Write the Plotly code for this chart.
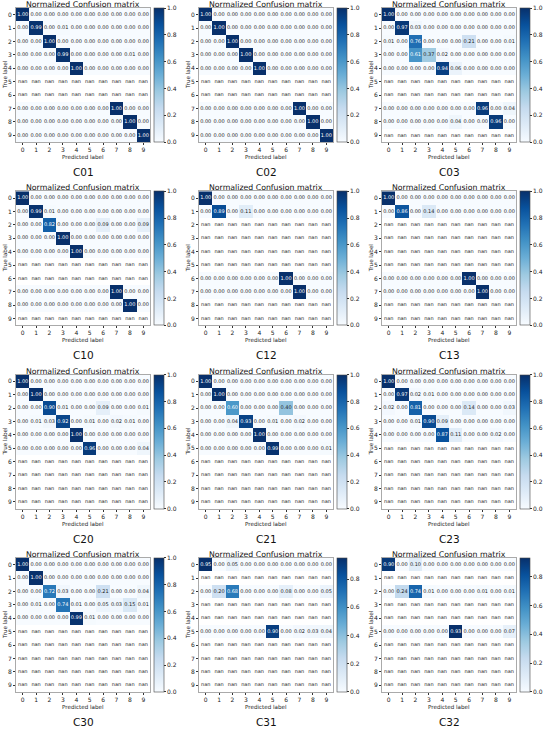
import plotly.graph_objects as go

# confusion matrices (rows = true label, cols = predicted label), None = nan
NAN = [None] * 10

c01 = [
    [1.00, 0.00, 0.00, 0.00, 0.00, 0.00, 0.00, 0.00, 0.00, 0.00],
    [0.00, 0.99, 0.00, 0.01, 0.00, 0.00, 0.00, 0.00, 0.00, 0.00],
    [0.00, 0.00, 1.00, 0.00, 0.00, 0.00, 0.00, 0.00, 0.00, 0.00],
    [0.00, 0.00, 0.00, 0.99, 0.00, 0.00, 0.00, 0.00, 0.01, 0.00],
    [0.00, 0.00, 0.00, 0.00, 1.00, 0.00, 0.00, 0.00, 0.00, 0.00],
    NAN, NAN,
    [0.00, 0.00, 0.00, 0.00, 0.00, 0.00, 0.00, 1.00, 0.00, 0.00],
    [0.00, 0.00, 0.00, 0.00, 0.00, 0.00, 0.00, 0.00, 1.00, 0.00],
    [0.00, 0.00, 0.00, 0.00, 0.00, 0.00, 0.00, 0.00, 0.00, 1.00],
]
c02 = [
    [1.00, 0.00, 0.00, 0.00, 0.00, 0.00, 0.00, 0.00, 0.00, 0.00],
    [0.00, 1.00, 0.00, 0.00, 0.00, 0.00, 0.00, 0.00, 0.00, 0.00],
    [0.00, 0.00, 1.00, 0.00, 0.00, 0.00, 0.00, 0.00, 0.00, 0.00],
    [0.00, 0.00, 0.00, 1.00, 0.00, 0.00, 0.00, 0.00, 0.00, 0.00],
    [0.00, 0.00, 0.00, 0.00, 1.00, 0.00, 0.00, 0.00, 0.00, 0.00],
    NAN, NAN,
    [0.00, 0.00, 0.00, 0.00, 0.00, 0.00, 0.00, 1.00, 0.00, 0.00],
    [0.00, 0.00, 0.00, 0.00, 0.00, 0.00, 0.00, 0.00, 1.00, 0.00],
    [0.00, 0.00, 0.00, 0.00, 0.00, 0.00, 0.00, 0.00, 0.00, 1.00],
]
c03 = [
    [1.00, 0.00, 0.00, 0.00, 0.00, 0.00, 0.00, 0.00, 0.00, 0.00],
    [0.00, 0.97, 0.03, 0.00, 0.00, 0.00, 0.00, 0.00, 0.00, 0.00],
    [0.01, 0.00, 0.76, 0.00, 0.00, 0.00, 0.21, 0.00, 0.00, 0.01],
    [0.00, 0.00, 0.61, 0.37, 0.02, 0.00, 0.00, 0.00, 0.00, 0.00],
    [0.00, 0.00, 0.00, 0.00, 0.94, 0.06, 0.00, 0.00, 0.00, 0.00],
    NAN, NAN,
    [0.00, 0.00, 0.00, 0.00, 0.00, 0.00, 0.00, 0.96, 0.00, 0.04],
    [0.00, 0.00, 0.00, 0.00, 0.00, 0.04, 0.00, 0.00, 0.96, 0.00],
    NAN,
]
c10 = [
    [1.00, 0.00, 0.00, 0.00, 0.00, 0.00, 0.00, 0.00, 0.00, 0.00],
    [0.00, 0.99, 0.01, 0.00, 0.00, 0.00, 0.00, 0.00, 0.00, 0.00],
    [0.00, 0.00, 0.82, 0.00, 0.00, 0.00, 0.09, 0.00, 0.00, 0.09],
    [0.00, 0.00, 0.00, 1.00, 0.00, 0.00, 0.00, 0.00, 0.00, 0.00],
    [0.00, 0.00, 0.00, 0.00, 1.00, 0.00, 0.00, 0.00, 0.00, 0.00],
    NAN, NAN,
    [0.00, 0.00, 0.00, 0.00, 0.00, 0.00, 0.00, 1.00, 0.00, 0.00],
    [0.00, 0.00, 0.00, 0.00, 0.00, 0.00, 0.00, 0.00, 1.00, 0.00],
    NAN,
]
c12 = [
    [1.00, 0.00, 0.00, 0.00, 0.00, 0.00, 0.00, 0.00, 0.00, 0.00],
    [0.00, 0.89, 0.00, 0.11, 0.00, 0.00, 0.00, 0.00, 0.00, 0.00],
    NAN, NAN, NAN, NAN,
    [0.00, 0.00, 0.00, 0.00, 0.00, 0.00, 1.00, 0.00, 0.00, 0.00],
    [0.00, 0.00, 0.00, 0.00, 0.00, 0.00, 0.00, 1.00, 0.00, 0.00],
    NAN, NAN,
]
c13 = [
    [1.00, 0.00, 0.00, 0.00, 0.00, 0.00, 0.00, 0.00, 0.00, 0.00],
    [0.00, 0.86, 0.00, 0.14, 0.00, 0.00, 0.00, 0.00, 0.00, 0.00],
    NAN, NAN, NAN, NAN,
    [0.00, 0.00, 0.00, 0.00, 0.00, 0.00, 1.00, 0.00, 0.00, 0.00],
    [0.00, 0.00, 0.00, 0.00, 0.00, 0.00, 0.00, 1.00, 0.00, 0.00],
    NAN, NAN,
]
c20 = [
    [1.00, 0.00, 0.00, 0.00, 0.00, 0.00, 0.00, 0.00, 0.00, 0.00],
    [0.00, 1.00, 0.00, 0.00, 0.00, 0.00, 0.00, 0.00, 0.00, 0.00],
    [0.00, 0.00, 0.90, 0.01, 0.00, 0.00, 0.09, 0.00, 0.00, 0.01],
    [0.00, 0.01, 0.03, 0.92, 0.00, 0.01, 0.00, 0.02, 0.01, 0.00],
    [0.00, 0.00, 0.00, 0.00, 1.00, 0.00, 0.00, 0.00, 0.00, 0.00],
    [0.00, 0.00, 0.00, 0.00, 0.00, 0.96, 0.00, 0.00, 0.00, 0.04],
    NAN, NAN, NAN, NAN,
]
c21 = [
    [1.00, 0.00, 0.00, 0.00, 0.00, 0.00, 0.00, 0.00, 0.00, 0.00],
    [0.00, 1.00, 0.00, 0.00, 0.00, 0.00, 0.00, 0.00, 0.00, 0.00],
    [0.00, 0.00, 0.60, 0.00, 0.00, 0.00, 0.40, 0.00, 0.00, 0.00],
    [0.00, 0.00, 0.04, 0.93, 0.00, 0.01, 0.00, 0.02, 0.00, 0.00],
    [0.00, 0.00, 0.00, 0.00, 1.00, 0.00, 0.00, 0.00, 0.00, 0.00],
    [0.00, 0.00, 0.00, 0.00, 0.00, 0.99, 0.00, 0.00, 0.00, 0.01],
    NAN, NAN, NAN, NAN,
]
c23 = [
    [1.00, 0.00, 0.00, 0.00, 0.00, 0.00, 0.00, 0.00, 0.00, 0.00],
    [0.00, 0.97, 0.02, 0.01, 0.00, 0.00, 0.00, 0.00, 0.00, 0.00],
    [0.02, 0.00, 0.81, 0.00, 0.00, 0.00, 0.14, 0.00, 0.00, 0.03],
    [0.00, 0.00, 0.01, 0.90, 0.09, 0.00, 0.00, 0.00, 0.00, 0.00],
    [0.00, 0.00, 0.00, 0.00, 0.87, 0.11, 0.00, 0.00, 0.02, 0.00],
    NAN, NAN, NAN, NAN, NAN,
]
c30 = [
    [1.00, 0.00, 0.00, 0.00, 0.00, 0.00, 0.00, 0.00, 0.00, 0.00],
    [0.00, 1.00, 0.00, 0.00, 0.00, 0.00, 0.00, 0.00, 0.00, 0.00],
    [0.00, 0.00, 0.72, 0.03, 0.00, 0.00, 0.21, 0.00, 0.00, 0.04],
    [0.00, 0.01, 0.00, 0.74, 0.01, 0.00, 0.05, 0.03, 0.15, 0.01],
    [0.00, 0.00, 0.00, 0.00, 0.99, 0.01, 0.00, 0.00, 0.00, 0.00],
    NAN, NAN, NAN, NAN, NAN,
]
c31 = [
    [0.95, 0.00, 0.05, 0.00, 0.00, 0.00, 0.00, 0.00, 0.00, 0.00],
    NAN,
    [0.00, 0.20, 0.68, 0.00, 0.00, 0.00, 0.08, 0.00, 0.00, 0.05],
    NAN, NAN,
    [0.00, 0.00, 0.00, 0.00, 0.00, 0.90, 0.00, 0.02, 0.03, 0.04],
    NAN, NAN, NAN, NAN,
]
c32 = [
    [0.90, 0.00, 0.10, 0.00, 0.00, 0.00, 0.00, 0.00, 0.00, 0.00],
    NAN,
    [0.00, 0.24, 0.74, 0.01, 0.00, 0.00, 0.00, 0.01, 0.00, 0.01],
    NAN, NAN,
    [0.00, 0.00, 0.00, 0.00, 0.00, 0.93, 0.00, 0.00, 0.00, 0.07],
    NAN, NAN, NAN, NAN,
]

names = ["C01", "C02", "C03", "C10", "C12", "C13",
         "C20", "C21", "C23", "C30", "C31", "C32"]
matrices = [c01, c02, c03, c10, c12, c13, c20, c21, c23, c30, c31, c32]
labels = list(range(10))

W, H = 550, 733
FONT = "DejaVu Sans"

# matplotlib "Blues"
blues = [[0.0, "#f7fbff"], [0.125, "#deebf7"], [0.25, "#c6dbef"],
         [0.375, "#9ecae1"], [0.5, "#6baed6"], [0.625, "#4292c6"],
         [0.75, "#2171b5"], [0.875, "#08519c"], [1.0, "#08306b"]]

fig = go.Figure()
annotations = []

for k, (name, m) in enumerate(zip(names, matrices)):
    r, c = divmod(k, 3)
    ox = 16 + c * 183.0      # matrix left edge (px)
    oy = 8 + r * 183.3       # matrix top edge (px)
    size = 134.0
    ax = "" if k == 0 else str(k + 1)

    vals = [v for row in m for v in row if v is not None]
    zmax = max(vals)
    zmin = min(vals)

    fig.add_trace(go.Heatmap(
        z=m, x=labels, y=labels,
        xaxis="x" + ax, yaxis="y" + ax,
        colorscale=blues, zmin=zmin, zmax=zmax,
        hoverongaps=False,
        colorbar=dict(
            x=(ox + size + 4) / W, xanchor="left",
            y=1 - (oy + size / 2) / H, yanchor="middle",
            len=size / H, thickness=10,
            outlinewidth=0.6, outlinecolor="#444444",
            tickvals=[0, 0.2, 0.4, 0.6, 0.8, 1.0], tickformat=".1f",
            ticks="outside", ticklen=2, tickwidth=0.6, tickcolor="#333333",
            tickfont=dict(size=6, family=FONT, color="#222222"),
            xpad=0, ypad=0,
        ),
    ))

    # cell text
    tx, ty, tt, tc = [], [], [], []
    for i, row in enumerate(m):
        for j, v in enumerate(row):
            tx.append(j)
            ty.append(i)
            if v is None:
                tt.append("nan")
                tc.append("#222222")
            else:
                tt.append(f"{v:.2f}")
                tc.append("white" if v > zmax / 2 else "#222222")
    fig.add_trace(go.Scatter(
        x=tx, y=ty, text=tt, mode="text",
        xaxis="x" + ax, yaxis="y" + ax,
        textfont=dict(size=5.0, family=FONT, color=tc),
        hoverinfo="skip", showlegend=False,
    ))

    axis_common = dict(
        tickvals=labels, ticks="outside", ticklen=2, tickwidth=0.6,
        tickcolor="#333333", showgrid=False, zeroline=False,
        showline=True, mirror=True, linecolor="#aaaaaa", linewidth=0.8,
        tickfont=dict(size=6, family=FONT, color="#222222"),
    )
    fig.layout["xaxis" + ax] = dict(
        axis_common, domain=[ox / W, (ox + size) / W],
        range=[-0.5, 9.5], anchor="y" + ax,
    )
    fig.layout["yaxis" + ax] = dict(
        axis_common, domain=[1 - (oy + size) / H, 1 - oy / H],
        range=[9.5, -0.5], anchor="x" + ax,
    )

    cx = (ox + size / 2) / W
    annotations += [
        dict(text="Normalized Confusion matrix", x=cx, y=1 - (oy - 3.5) / H,
             font=dict(size=7.8, family=FONT, color="#111111")),
        dict(text="Predicted label", x=cx, y=1 - (oy + size + 15) / H,
             font=dict(size=5.6, family=FONT, color="#222222")),
        dict(text="True label", x=(ox - 11) / W, y=1 - (oy + size / 2) / H,
             textangle=-90, font=dict(size=5.6, family=FONT, color="#222222")),
        dict(text=name, x=cx, y=1 - (oy + size + 30) / H,
             font=dict(size=10.5, family=FONT, color="#111111")),
    ]

for a in annotations:
    a.update(xref="paper", yref="paper", showarrow=False,
             xanchor="center", yanchor="middle")

fig.update_layout(
    width=W, height=H,
    margin=dict(l=0, r=0, t=0, b=0),
    paper_bgcolor="white", plot_bgcolor="white",
    annotations=annotations,
    showlegend=False,
)

# drop the browser's default 8px body margin so the figure fills the window
fig.write_html("out.html",
               config={"displayModeBar": False},
               post_script="document.body.style.margin='0';"
                           "document.body.style.overflow='hidden';")
